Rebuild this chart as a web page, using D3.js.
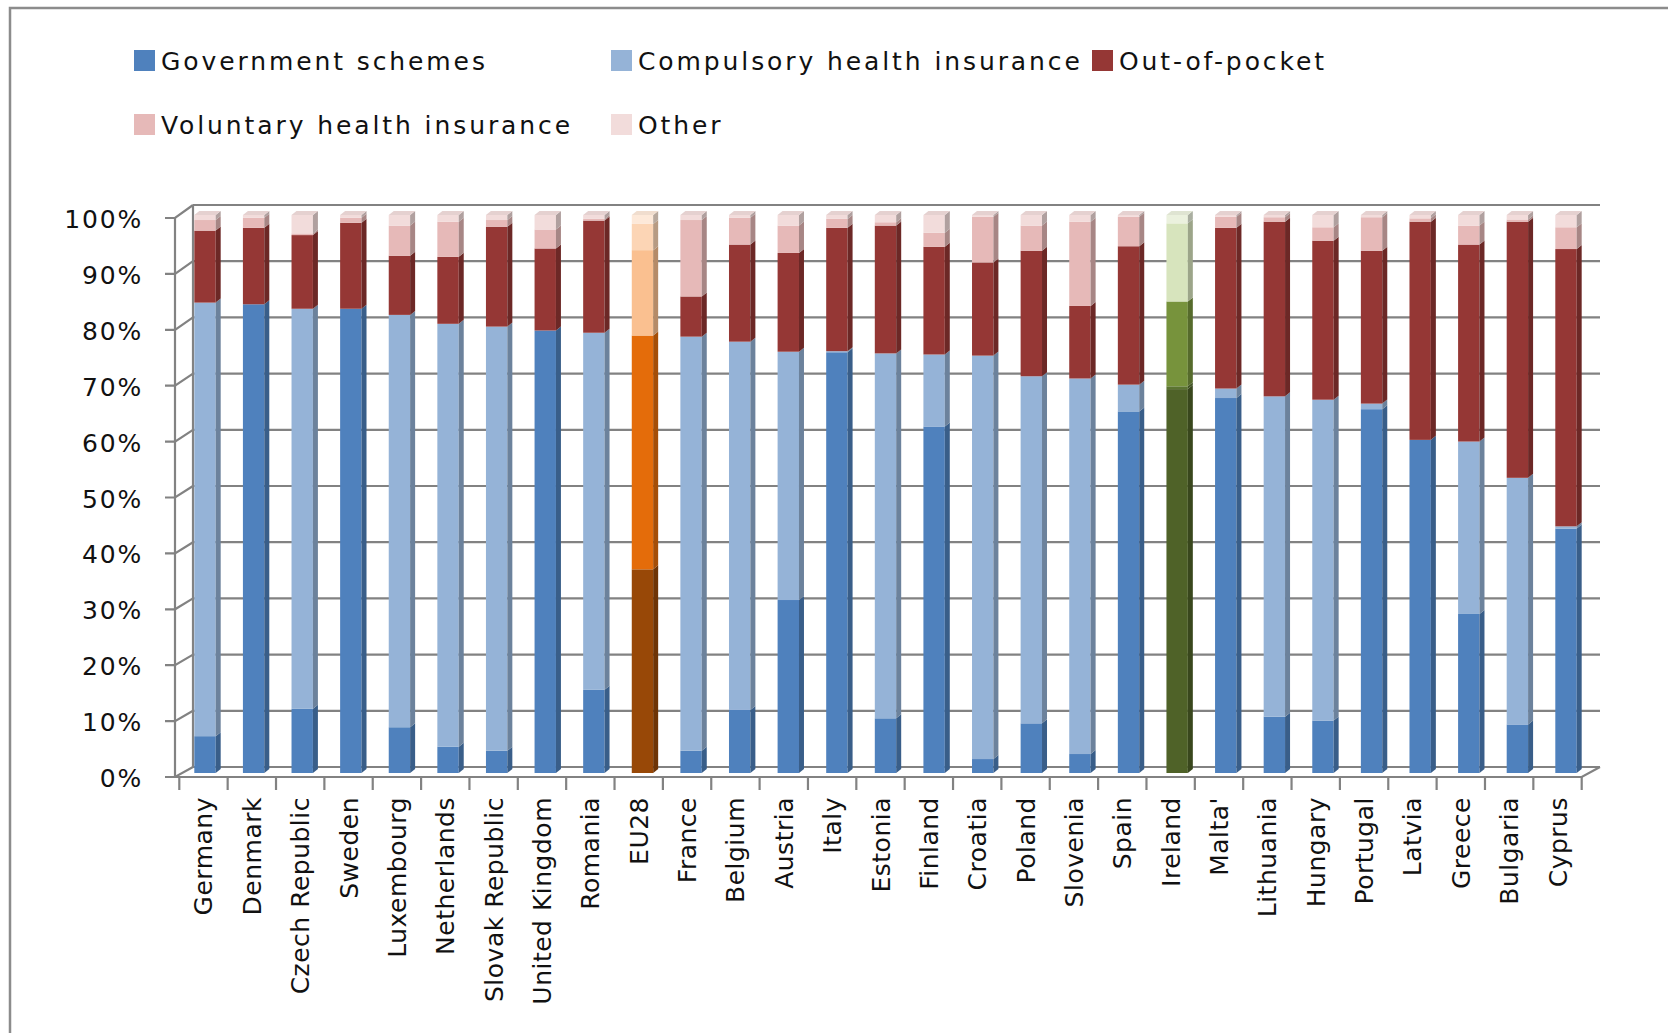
<!DOCTYPE html>
<html>
<head>
<meta charset="utf-8">
<script src="https://cdn.jsdelivr.net/npm/d3@7"></script>
<style>
  body { margin: 0; background: #fff; }
  text { font-family: "DejaVu Sans", sans-serif; fill: #111; }
</style>
</head>
<body>
<div id="chart"></div>
<script>
// health financing shares by scheme, EU countries
const countries = ["Germany", "Denmark", "Czech Republic", "Sweden", "Luxembourg", "Netherlands",
  "Slovak Republic", "United Kingdom", "Romania", "EU28", "France", "Belgium", "Austria", "Italy",
  "Estonia", "Finland", "Croatia", "Poland", "Slovenia", "Spain", "Ireland", "Malta'", "Lithuania",
  "Hungary", "Portugal", "Latvia", "Greece", "Bulgaria", "Cyprus"];

const govSchemes =   [6.6, 84.0, 11.5, 83.2, 8.2, 4.7, 4.0, 79.3, 14.9, 36.5, 4.0, 11.3, 31.0, 75.4, 9.8, 62.1, 2.5, 8.9, 3.4, 64.8, 68.8, 67.2, 10.1, 9.4, 65.2, 59.7, 28.5, 8.7, 43.8];
const compulsoryIns = [77.7, 0, 71.7, 0, 73.9, 75.8, 76.0, 0, 64.0, 41.9, 74.2, 66.0, 44.5, 0.2, 65.4, 12.9, 72.3, 62.2, 67.3, 4.8, 0.5, 1.7, 57.4, 57.5, 1.0, 0, 30.9, 44.2, 0.4];
const outOfPocket =  [12.9, 13.7, 13.2, 15.4, 10.6, 12.0, 17.9, 14.7, 20.1, 15.3, 7.2, 17.4, 17.7, 22.1, 22.9, 19.3, 16.7, 22.5, 13.0, 24.8, 15.2, 28.8, 31.3, 28.5, 27.4, 39.1, 35.3, 45.9, 49.7];
const voluntaryIns = [1.9, 1.8, 0.3, 0.9, 5.4, 6.3, 1.2, 3.4, 0.3, 4.7, 13.7, 4.8, 4.9, 1.6, 0.6, 2.5, 8.2, 4.5, 15.1, 5.3, 14.0, 2.0, 0.8, 2.4, 6.0, 0.6, 3.4, 0.4, 3.9];
const otherFin =     [0.9, 0.5, 3.3, 0.5, 1.9, 1.2, 0.9, 2.6, 0.7, 1.6, 0.9, 0.5, 1.9, 0.7, 1.3, 3.2, 0.3, 1.9, 1.2, 0.3, 1.5, 0.3, 0.4, 2.2, 0.4, 0.6, 1.9, 0.8, 2.2];

const seriesNames = ["Government schemes", "Compulsory health insurance", "Out-of-pocket",
  "Voluntary health insurance", "Other"];
const yTicks = [0, 0.1, 0.2, 0.3, 0.4, 0.5, 0.6, 0.7, 0.8, 0.9, 1];

const palettes = {
  base: ["#4F81BD", "#95B3D7", "#953735", "#E6B9B8", "#F2DCDB"],
  EU28: ["#984807", "#E46C0A", "#FAC090", "#FCD5B5", "#FDE9D9"],
  Ireland: ["#4F6228", "#5B7431", "#77933C", "#D7E4BD", "#EBF1DE"]
};

const width = 1668, height = 1033;
const keys = ["gov", "comp", "oop", "vhi", "other"];

const rows = countries.map((c, i) => ({
  country: c,
  gov: govSchemes[i] / 100,
  comp: compulsoryIns[i] / 100,
  oop: outOfPocket[i] / 100,
  vhi: voluntaryIns[i] / 100,
  other: otherFin[i] / 100
}));
const stacked = d3.stack().keys(keys)(rows);

// front plane (axis), bar plane and back wall
const yFront = d3.scaleLinear().domain([0, 1]).range([777, 218]);
const yBar = d3.scaleLinear().domain([0, 1]).range([773, 215]);
const yBack = d3.scaleLinear().domain([0, 1]).range([767, 205]);
const xAxis = d3.scaleBand().domain(countries).range([179.3, 1581.7]);
const xBar = d3.scaleBand().domain(countries).range([180.7, 1590.3]).paddingInner(0.56).paddingOuter(0.28);
const backLeft = 193, backRight = 1600, frontLeft = 175;
const dx = 5, dy = 4; // bar depth

const svg = d3.select("#chart").append("svg")
  .attr("width", width)
  .attr("height", height);

svg.append("rect")
  .attr("x", 10).attr("y", 8)
  .attr("width", 1700).attr("height", 1100)
  .attr("fill", "#fff")
  .attr("stroke", "#8c8c8c")
  .attr("stroke-width", 2.5);

const grid = svg.append("g")
  .attr("stroke", "#828282")
  .attr("stroke-width", 2.2)
  .attr("fill", "none");

// back wall gridlines
grid.selectAll("line.h")
  .data(yTicks)
  .join("line")
  .attr("x1", backLeft).attr("x2", backRight)
  .attr("y1", d => yBack(d)).attr("y2", d => yBack(d));

// side wall slants + ticks
grid.selectAll("path.s")
  .data(yTicks)
  .join("path")
  .attr("d", d => `M165,${yFront(d)}H${frontLeft}L${backLeft},${yBack(d)}`);

grid.append("line")
  .attr("x1", backLeft).attr("x2", backLeft)
  .attr("y1", yBack(1)).attr("y2", yBack(0));
grid.append("line")
  .attr("x1", frontLeft).attr("x2", frontLeft)
  .attr("y1", yFront(1)).attr("y2", yFront(0));

// floor front edge + right slant
grid.append("path")
  .attr("d", `M${frontLeft},${yFront(0)}H${xAxis.range()[1]}L${backRight},${yBack(0)}`);

grid.selectAll("line.xt")
  .data(countries.concat(["end"]))
  .join("line")
  .attr("x1", (d, i) => xAxis.range()[0] + i * xAxis.step())
  .attr("x2", (d, i) => xAxis.range()[0] + i * xAxis.step())
  .attr("y1", yFront(0)).attr("y2", yFront(0) + 13);

svg.append("g")
  .attr("font-size", 25)
  .attr("letter-spacing", 1.8)
  .attr("text-anchor", "end")
  .selectAll("text")
  .data(yTicks)
  .join("text")
  .attr("x", 143)
  .attr("y", d => yFront(d) + 10)
  .text(d => d3.format(".0%")(d));

// bars
const colorOf = (country, k) => (palettes[country] || palettes.base)[k];
const bw = xBar.bandwidth();

const layers = svg.append("g").selectAll("g")
  .data(stacked)
  .join("g");

layers.each(function(layer, k) {
  const g = d3.select(this);
  layer.forEach(seg => {
    const c = seg.data.country;
    const x = xBar(c);
    const y0 = yBar(seg[0]), y1 = yBar(seg[1]);
    if (y0 - y1 <= 0) return;
    const col = colorOf(c, k);
    g.append("rect")
      .attr("x", x).attr("y", y1)
      .attr("width", bw).attr("height", y0 - y1)
      .attr("fill", col);
    g.append("path")
      .attr("d", `M${x + bw},${y1}l${dx},${-dy}V${y0 - dy}l${-dx},${dy}Z`)
      .attr("fill", d3.color(col).darker(0.9));
  });
});

// top faces
svg.append("g").selectAll("path")
  .data(rows)
  .join("path")
  .attr("d", d => {
    const x = xBar(d.country), y = yBar(1);
    return `M${x},${y}l${dx},${-dy}h${bw}l${-dx},${dy}Z`;
  })
  .attr("fill", d => d3.color(colorOf(d.country, 4)).darker(0.15));

// category labels
svg.append("g")
  .attr("font-size", 25)
  .attr("letter-spacing", 0.5)
  .attr("text-anchor", "end")
  .selectAll("text")
  .data(countries)
  .join("text")
  .attr("transform", d => `translate(${xAxis(d) + xAxis.bandwidth() / 2 + 9},797) rotate(-90)`)
  .text(d => d);

// legend
const legendPos = [[134, 50], [611, 50], [1092, 50], [134, 114], [611, 114]];
const legend = svg.append("g")
  .attr("font-size", 25)
  .attr("letter-spacing", 2.9)
  .selectAll("g")
  .data(seriesNames)
  .join("g")
  .attr("transform", (d, i) => `translate(${legendPos[i]})`);

legend.append("rect")
  .attr("width", 21).attr("height", 21)
  .attr("fill", (d, i) => palettes.base[i]);

legend.append("text")
  .attr("x", 27).attr("y", 20)
  .text(d => d);
</script>
</body>
</html>
